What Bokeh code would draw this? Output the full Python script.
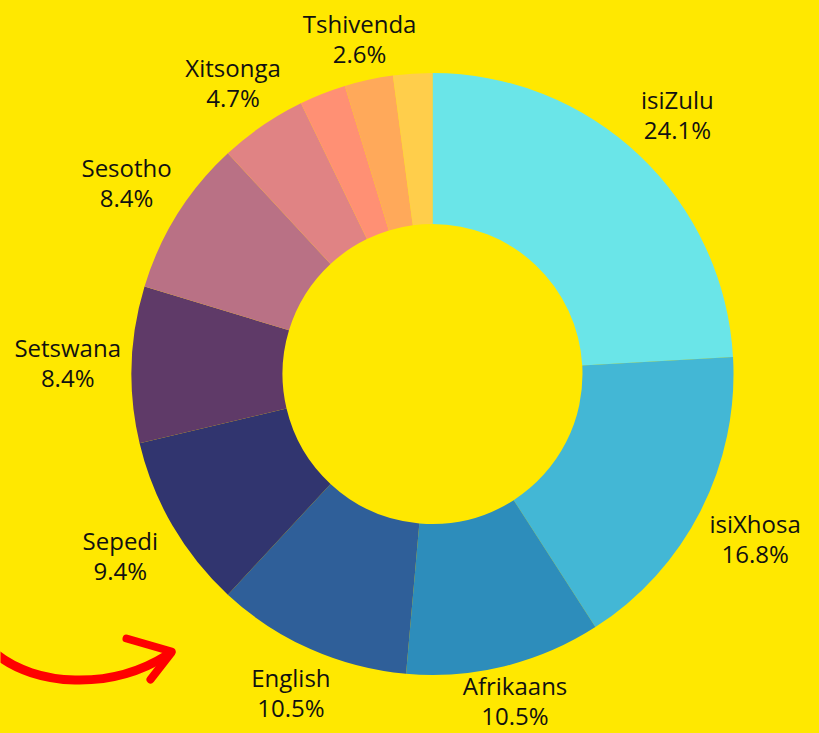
import re
import numpy as np
from bokeh.plotting import figure
from bokeh.models import Range1d, ColumnDataSource
from bokeh.core.properties import value
from bokeh.embed import file_html
from bokeh.resources import INLINE

# ---- data ----
languages = ["isiZulu", "isiXhosa", "Afrikaans", "English", "Sepedi", "Setswana",
             "Sesotho", "Xitsonga", "siSwati", "Tshivenda", "isiNdebele"]
shares = [24.1, 16.8, 10.5, 10.5, 9.4, 8.4, 8.4, 4.7, 2.5, 2.6, 2.1]
colors = ["#6AE5E8", "#43B7D5", "#2D8DBB", "#2F5F99", "#31356F", "#5F3A68",
          "#B97185", "#E08384", "#FF9074", "#FFA95A", "#FFCE4B"]
label_min = 2.55

BG = "#FFE800"
W, H = 819, 733

def sy(y):
    return H - y

cx, cy = 432, sy(373.5)
r_out, r_in = 301, 150

vals = np.array(shares, dtype=float)
frac = vals / vals.sum()
cum_end = np.cumsum(frac)
cum_start = cum_end - frac
start_angle = np.pi / 2 - cum_start * 2 * np.pi
end_angle = np.pi / 2 - cum_end * 2 * np.pi

p = figure(width=W, height=H, x_range=Range1d(0, W), y_range=Range1d(0, H),
           output_backend="svg", toolbar_location=None, min_border=0)
p.axis.visible = False
p.grid.visible = False
p.outline_line_color = None
p.background_fill_color = BG
p.border_fill_color = BG

src = ColumnDataSource(dict(x=[cx] * len(vals), y=[cy] * len(vals), start=start_angle, end=end_angle,
                            color=colors, name=languages))
p.annular_wedge(x="x", y="y", inner_radius=r_in, outer_radius=r_out, start_angle="start",
                end_angle="end", direction="clock", fill_color="color", line_color=None, source=src)

# labels
theta = (cum_start + frac / 2) * 2 * np.pi  # clockwise from top
lab_r = 338 + 27 * np.abs(np.sin(theta))
lx = cx + lab_r * np.sin(theta)
ly = cy + lab_r * np.cos(theta)
ly = np.maximum(ly, 33)  # keep the lower line inside the page
mask = vals >= label_min
names = [n for n, m in zip(languages, mask) if m]
pcts = [f"{v:.1f}%" for v, m in zip(vals, mask) if m]
lsrc = ColumnDataSource(dict(x=lx[mask], y1=ly[mask] + 15, y2=ly[mask] - 15, name=names, pct=pcts))
for ycol, tcol in (("y1", "name"), ("y2", "pct")):
    p.text(x="x", y=ycol, text=tcol, source=lsrc, text_align="center", text_baseline="middle",
           text_font=value("Open Sans"), text_font_size="24px", text_color="#111111")

# red decorative arrow
p.bezier(x0=[-5], y0=[sy(653)], x1=[166], y1=[sy(655)], cx0=[35], cy0=[sy(686)], cx1=[110], cy1=[sy(690)],
         line_color="#FF0000", line_width=9, line_cap="round")
p.multi_line(xs=[[126, 171], [150, 171]], ys=[[sy(638), sy(651)], [sy(679), sy(652)]],
             line_color="#FF0000", line_width=8, line_cap="round")

html = file_html(p, INLINE)
style = f"<style>html, body {{ background-color: {BG}; }}</style>"
html = re.sub(r"</head>", style + "</head>", html, count=1)
open("out.html", "w").write(html)
